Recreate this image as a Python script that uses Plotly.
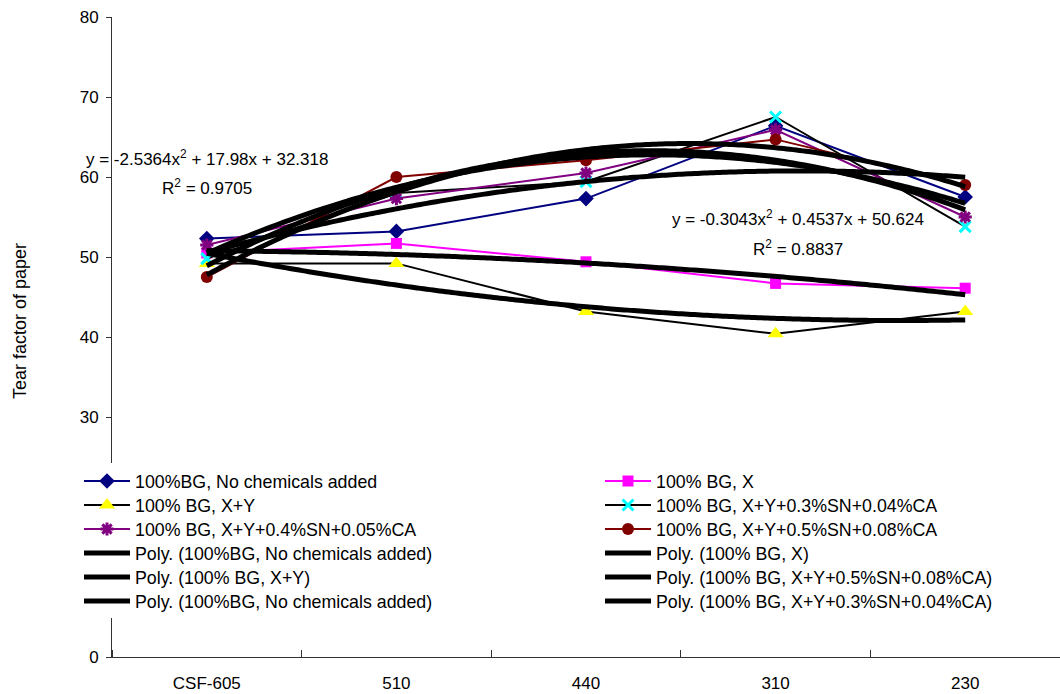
import numpy as np
import plotly.graph_objects as go

# Freeness levels (ml CSF) on the horizontal axis
categories = ["CSF-605", "510", "440", "310", "230"]

# Tear factor of paper for each furnish
no_chem = [52.3, 53.2, 57.3, 66.4, 57.5]
bg_x = [50.5, 51.7, 49.4, 46.7, 46.1]
bg_xy = [49.2, 49.2, 43.2, 40.4, 43.2]
bg_sn03 = [49.8, 58.0, 59.4, 67.5, 53.8]
bg_sn04 = [51.5, 57.3, 60.5, 65.9, 55.0]
bg_sn05 = [47.5, 60.0, 62.1, 64.7, 59.0]

# Published second-order trendline equations (coefficients a, b, c and R^2)
eq_sn05 = [-2.5364, 17.98, 32.318]
r2_sn05 = 0.9705
eq_x = [-0.3043, 0.4537, 50.624]
r2_x = 0.8837

y_ticks = [0, 10, 20, 30, 40, 50, 60, 70, 80]

FONT = "Liberation Sans, Arial, sans-serif"
FS = 17
LEG_FS = 17.8

# plot-area geometry in pixels (used to place the legend rows)
W, H = 1060, 694
ML, MR, MT, MB = 112, 0, 17, 37
PW, PH = W - ML - MR, H - MT - MB

idx = np.arange(len(categories))          # category positions 0..4
xn = idx + 1                              # trendline x variable 1..5
xs_fine = np.linspace(1, len(categories), 120)

# legend grid: 6 rows x 2 columns, one legend box per entry
LEG_COL_X = [79, 600]        # left edge of each legend column (px)
LEG_ROW0 = 481               # centre of first legend row (px)
LEG_ROW_STEP = 24            # distance between legend rows (px)


def legend_id(row, col):
    n = row * 2 + col + 1
    return "legend" if n == 1 else f"legend{n}"


series = [
    # name, values, line colour, marker symbol, size, marker colour, (row, col)
    ("100%BG, No chemicals added", no_chem, "#000080", "diamond", 12, "#000080", (0, 0)),
    ("100% BG, X", bg_x, "#FF00FF", "square", 11, "#FF00FF", (0, 1)),
    ("100% BG, X+Y", bg_xy, "#000000", "triangle-up", 14, "#FFFF00", (1, 0)),
    ("100% BG, X+Y+0.3%SN+0.04%CA", bg_sn03, "#000000", "x-thin-open", 11, "#00FFFF", (1, 1)),
    ("100% BG, X+Y+0.4%SN+0.05%CA", bg_sn04, "#800080", "asterisk-open", 11, "#800080", (2, 0)),
    ("100% BG, X+Y+0.5%SN+0.08%CA", bg_sn05, "#800000", "circle", 12, "#800000", (2, 1)),
]

fig = go.Figure()

for name, vals, lc, sym, ms, mc, (r, c) in series:
    open_sym = sym.endswith("open")
    fig.add_trace(go.Scatter(
        x=idx, y=vals, name=name, mode="lines+markers", legend=legend_id(r, c),
        line=dict(color=lc, width=2),
        marker=dict(symbol=sym, size=ms, color=mc,
                    line=dict(color=mc, width=3 if open_sym else 0)),
    ))


def trend(coefs, name, row, col):
    yfit = np.polyval(coefs, xs_fine)
    fig.add_trace(go.Scatter(
        x=xs_fine - 1, y=yfit, name=name, mode="lines",
        legend=legend_id(row, col),
        line=dict(color="#000000", width=5, shape="spline"),
    ))


def fitted(vals):
    return np.polyfit(xn, vals, 2)


trend(fitted(no_chem), "Poly. (100%BG, No chemicals added)", 3, 0)
trend(eq_x, "Poly. (100% BG, X)", 3, 1)
trend(fitted(bg_xy), "Poly. (100% BG, X+Y)", 4, 0)
trend(eq_sn05, "Poly. (100% BG, X+Y+0.5%SN+0.08%CA)", 4, 1)
trend(fitted(bg_sn04), "Poly. (100%BG, No chemicals added)", 5, 0)
trend(fitted(bg_sn03), "Poly. (100% BG, X+Y+0.3%SN+0.04%CA)", 5, 1)


def eq_text(c):
    a, b, k = c
    return f"y = {a}x<sup>2</sup> + {b}x + {k}"


text_font = dict(family=FONT, size=FS, color="#000000")
annotations = [
    dict(x=0, y=62.4, text=eq_text(eq_sn05)),
    dict(x=0, y=58.7, text=f"R<sup>2</sup> = {r2_sn05}"),
    dict(x=3.12, y=54.9, text=eq_text(eq_x)),
    dict(x=3.12, y=51.1, text=f"R<sup>2</sup> = {r2_x}"),
]
for a in annotations:
    a.update(xref="x", yref="y", showarrow=False, xanchor="center",
             yanchor="middle", font=text_font)

# vertical axis title
annotations.append(dict(
    text="Tear factor of paper", textangle=-90, showarrow=False,
    xref="paper", yref="paper", x=(20 - ML) / PW, y=(MT + PH - 321) / PH,
    xanchor="center", yanchor="middle",
    font=dict(family=FONT, size=18, color="#000000"),
))

# legend rows, each with its own box
legends = {}
item_h = 1.3 * LEG_FS + 3
for r in range(6):
    for c in range(2):
        top = LEG_ROW0 + r * LEG_ROW_STEP - (item_h / 2 + 5)
        legends[legend_id(r, c)] = dict(
            orientation="v", bgcolor="rgba(0,0,0,0)", borderwidth=0,
            font=dict(family=FONT, size=LEG_FS, color="#000000"),
            itemwidth=46, xanchor="left", yanchor="top",
            x=(LEG_COL_X[c] - ML) / PW, y=(MT + PH - top) / PH,
        )

# white panel behind the legend entries
legend_panel = dict(
    type="rect", xref="paper", yref="paper", layer="above",
    x0=(LEG_COL_X[0] - ML) / PW, x1=(1000 - ML) / PW,
    y0=(MT + PH - 618) / PH, y1=(MT + PH - 463) / PH,
    fillcolor="#FFFFFF", line=dict(width=0),
)

fig.update_layout(
    width=W, height=H,
    margin=dict(l=ML, r=MR, t=MT, b=MB),
    paper_bgcolor="#FFFFFF", plot_bgcolor="#FFFFFF",
    font=dict(family=FONT, size=FS, color="#000000"),
    showlegend=True,
    annotations=annotations,
    shapes=[legend_panel],
    xaxis=dict(
        range=[-0.5, len(categories) - 0.5],
        tickmode="array", tickvals=list(idx), ticktext=categories,
        ticks="", showgrid=False, zeroline=False,
        showline=True, linecolor="#333333", linewidth=1,
        ticklabelstandoff=11,
        minor=dict(ticks="inside", ticklen=7, tickcolor="#333333",
                   tick0=-0.5, dtick=1, showgrid=False),
        tickfont=dict(family=FONT, size=FS, color="#000000"),
    ),
    yaxis=dict(
        range=[0, 80], tickmode="array", tickvals=y_ticks,
        ticks="outside", ticklen=5, tickcolor="#333333",
        showgrid=False, zeroline=False,
        showline=True, linecolor="#333333", linewidth=1,
        ticklabelstandoff=4,
        tickfont=dict(family=FONT, size=FS, color="#000000"),
    ),
    **legends,
)

fig.write_html("out.html")
